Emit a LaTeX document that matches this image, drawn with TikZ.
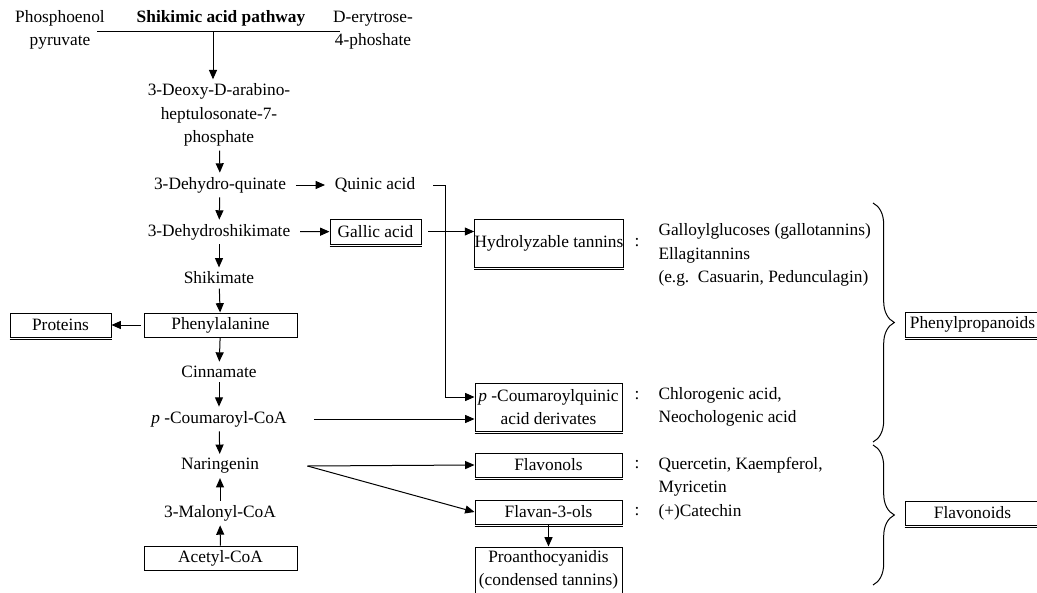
\documentclass[tikz,border=0pt]{standalone}
\usepackage{fontspec}
\setmainfont{Liberation Serif}
\usetikzlibrary{arrows.meta,decorations.pathreplacing}

\begin{document}
\begin{tikzpicture}[x=0.75pt,y=-0.75pt,
    font=\fontsize{13}{17.5}\selectfont,
    line width=0.75pt,
    >={Triangle[length=7pt,width=6pt]},
    chem/.style={inner xsep=7pt, inner ysep=3pt, align=center},
    cbox/.style={draw, inner sep=0pt, align=center, minimum height=18pt},
    note/.style={anchor=west, align=left, inner sep=0pt},
    arr/.style={->}
  ]
  \useasboundingbox (0,0) rectangle (1037,592);

  % Top of the pathway
  \node[chem] (pep) at (60,30) {Phosphoenol\\pyruvate};
  \node[chem, font=\fontsize{13}{17.5}\selectfont\bfseries] (shik) at (221,18) {Shikimic acid pathway};
  \node[chem] (e4p) at (373,30) {D-erytrose-\\4-phoshate};
  \coordinate (bar-l) at (97,32);
  \coordinate (bar-r) at (340,32);
  \coordinate (bar-m) at (213,32);

  % Main column
  \node[chem] (dahp) at (219,115) {3-Deoxy-D-arabino-\\heptulosonate-7-\\phosphate};
  \node[chem] (dhq) at (220,185) {3-Dehydro-quinate};
  \node[chem] (dhs) at (219,232) {3-Dehydroshikimate};
  \node[chem] (shikimate) at (219,278) {Shikimate};
  \node[cbox, minimum width=114.75pt] (phenyl) at (220.5,325) {Phenylalanine};
  \node[chem] (cinn) at (219,372) {Cinnamate};
  \node[chem] (pcoa) at (219,419) {\textit{p} -Coumaroyl-CoA};
  \node[chem] (naring) at (220,466) {Naringenin};
  \node[chem] (malonyl) at (220,513) {3-Malonyl-CoA};
  \node[cbox, minimum width=114.75pt] (acetyl) at (220.5,558) {Acetyl-CoA};
  \node[cbox, minimum width=75.75pt] (proteins) at (60.5,325) {Proteins};

  % Side products
  \node[chem] (quinic) at (375,185) {Quinic acid};
  \node[cbox, minimum width=68.25pt, minimum height=18.75pt] (gallic) at (375.5,231.5) {Gallic acid};
  \coordinate (bend) at (445,185);

  % Right column of classes
  \node[cbox, minimum width=109.5pt, minimum height=36pt] (hydro) at (549,243) {Hydrolyzable tannins};
  \node[cbox, minimum width=110.25pt, minimum height=36pt] (pcq) at (548.5,407) {\textit{p} -Coumaroylquinic\\acid derivates};
  \node[cbox, minimum width=110.25pt] (flavonols) at (548.5,465) {Flavonols};
  \node[cbox, minimum width=110.25pt] (flavan) at (548.5,512) {Flavan-3-ols};
  \node[cbox, minimum width=110.25pt, minimum height=34.5pt] (proantho) at (548.5,570) {Proanthocyanidis\\(condensed tannins)};

  % Examples
  \node[inner sep=0pt] (c1) at (637,243) {:};
  \node[inner sep=0pt] (c2) at (637,396) {:};
  \node[inner sep=0pt] (c3) at (637,465) {:};
  \node[inner sep=0pt] (c4) at (637,512) {:};
  \node[note] (hydro-ex) at (658,255) {Galloylglucoses (gallotannins)\\Ellagitannins\\(e.g.\ \ Casuarin, Pedunculagin)};
  \node[note] (pcq-ex) at (658,407) {Chlorogenic acid,\\Neochologenic acid};
  \node[note] (flavonol-ex) at (658,476.5) {Quercetin, Kaempferol,\\Myricetin};
  \node[note] (flavan-ex) at (658,512) {(+)Catechin};

  % Groups
  \node[cbox, minimum width=101.25pt, minimum height=18.75pt] (phenylprop) at (972.5,324.5) {Phenylpropanoids};
  \node[cbox, minimum width=101.25pt] (flavonoids) at (972.5,513) {Flavonoids};
  \draw[decorate, decoration={brace, amplitude=16pt}] (873,203) -- (873,442);
  \draw[decorate, decoration={brace, amplitude=16pt}] (873,445) -- (873,585);

  % Double bottom lines of the boxes
  \foreach \b in {proteins,gallic,hydro,pcq,flavonols,flavan,phenylprop,flavonoids} {
    \draw ([yshift=-1.6pt]\b.south west) -- ([yshift=-1.6pt]\b.south east);
  }

  % Connectors
  \draw (bar-l) -- (bar-r);
  \draw[arr] (bar-m) -- (bar-m |- dahp.north);
  \draw[arr] (dahp) -- (dhq);
  \draw[arr] (dhq) -- (dhs);
  \draw[arr] (dhs) -- (shikimate);
  \draw[arr] (shikimate) -- (phenyl);
  \draw[arr] (phenyl) -- (cinn);
  \draw[arr] (cinn) -- (pcoa);
  \draw[arr] (pcoa) -- (naring);
  \draw[arr] (acetyl) -- (malonyl);
  \draw[arr] (malonyl) -- (naring);
  \draw[arr, shorten <=2pt] (phenyl) -- (proteins);
  \draw[arr] (dhq) -- (quinic);
  \draw[arr] (dhs) -- (gallic);
  \draw[arr, shorten <=6pt] (quinic) -- (bend) |- ([yshift=7.5pt]pcq.west);
  \draw[arr, shorten <=5pt] (gallic.east) -- (gallic.east -| hydro.west);
  \draw[arr, shorten <=13pt] (pcoa.east) -- (pcoa.east -| pcq.west);
  \coordinate (nar-out) at ([xshift=29pt]naring.east);
  \draw[arr] (nar-out) -- (flavonols.west);
  \draw[arr] (nar-out) -- (flavan.west);
  \draw[arr] (flavan) -- (proantho);

\end{tikzpicture}
\end{document}
